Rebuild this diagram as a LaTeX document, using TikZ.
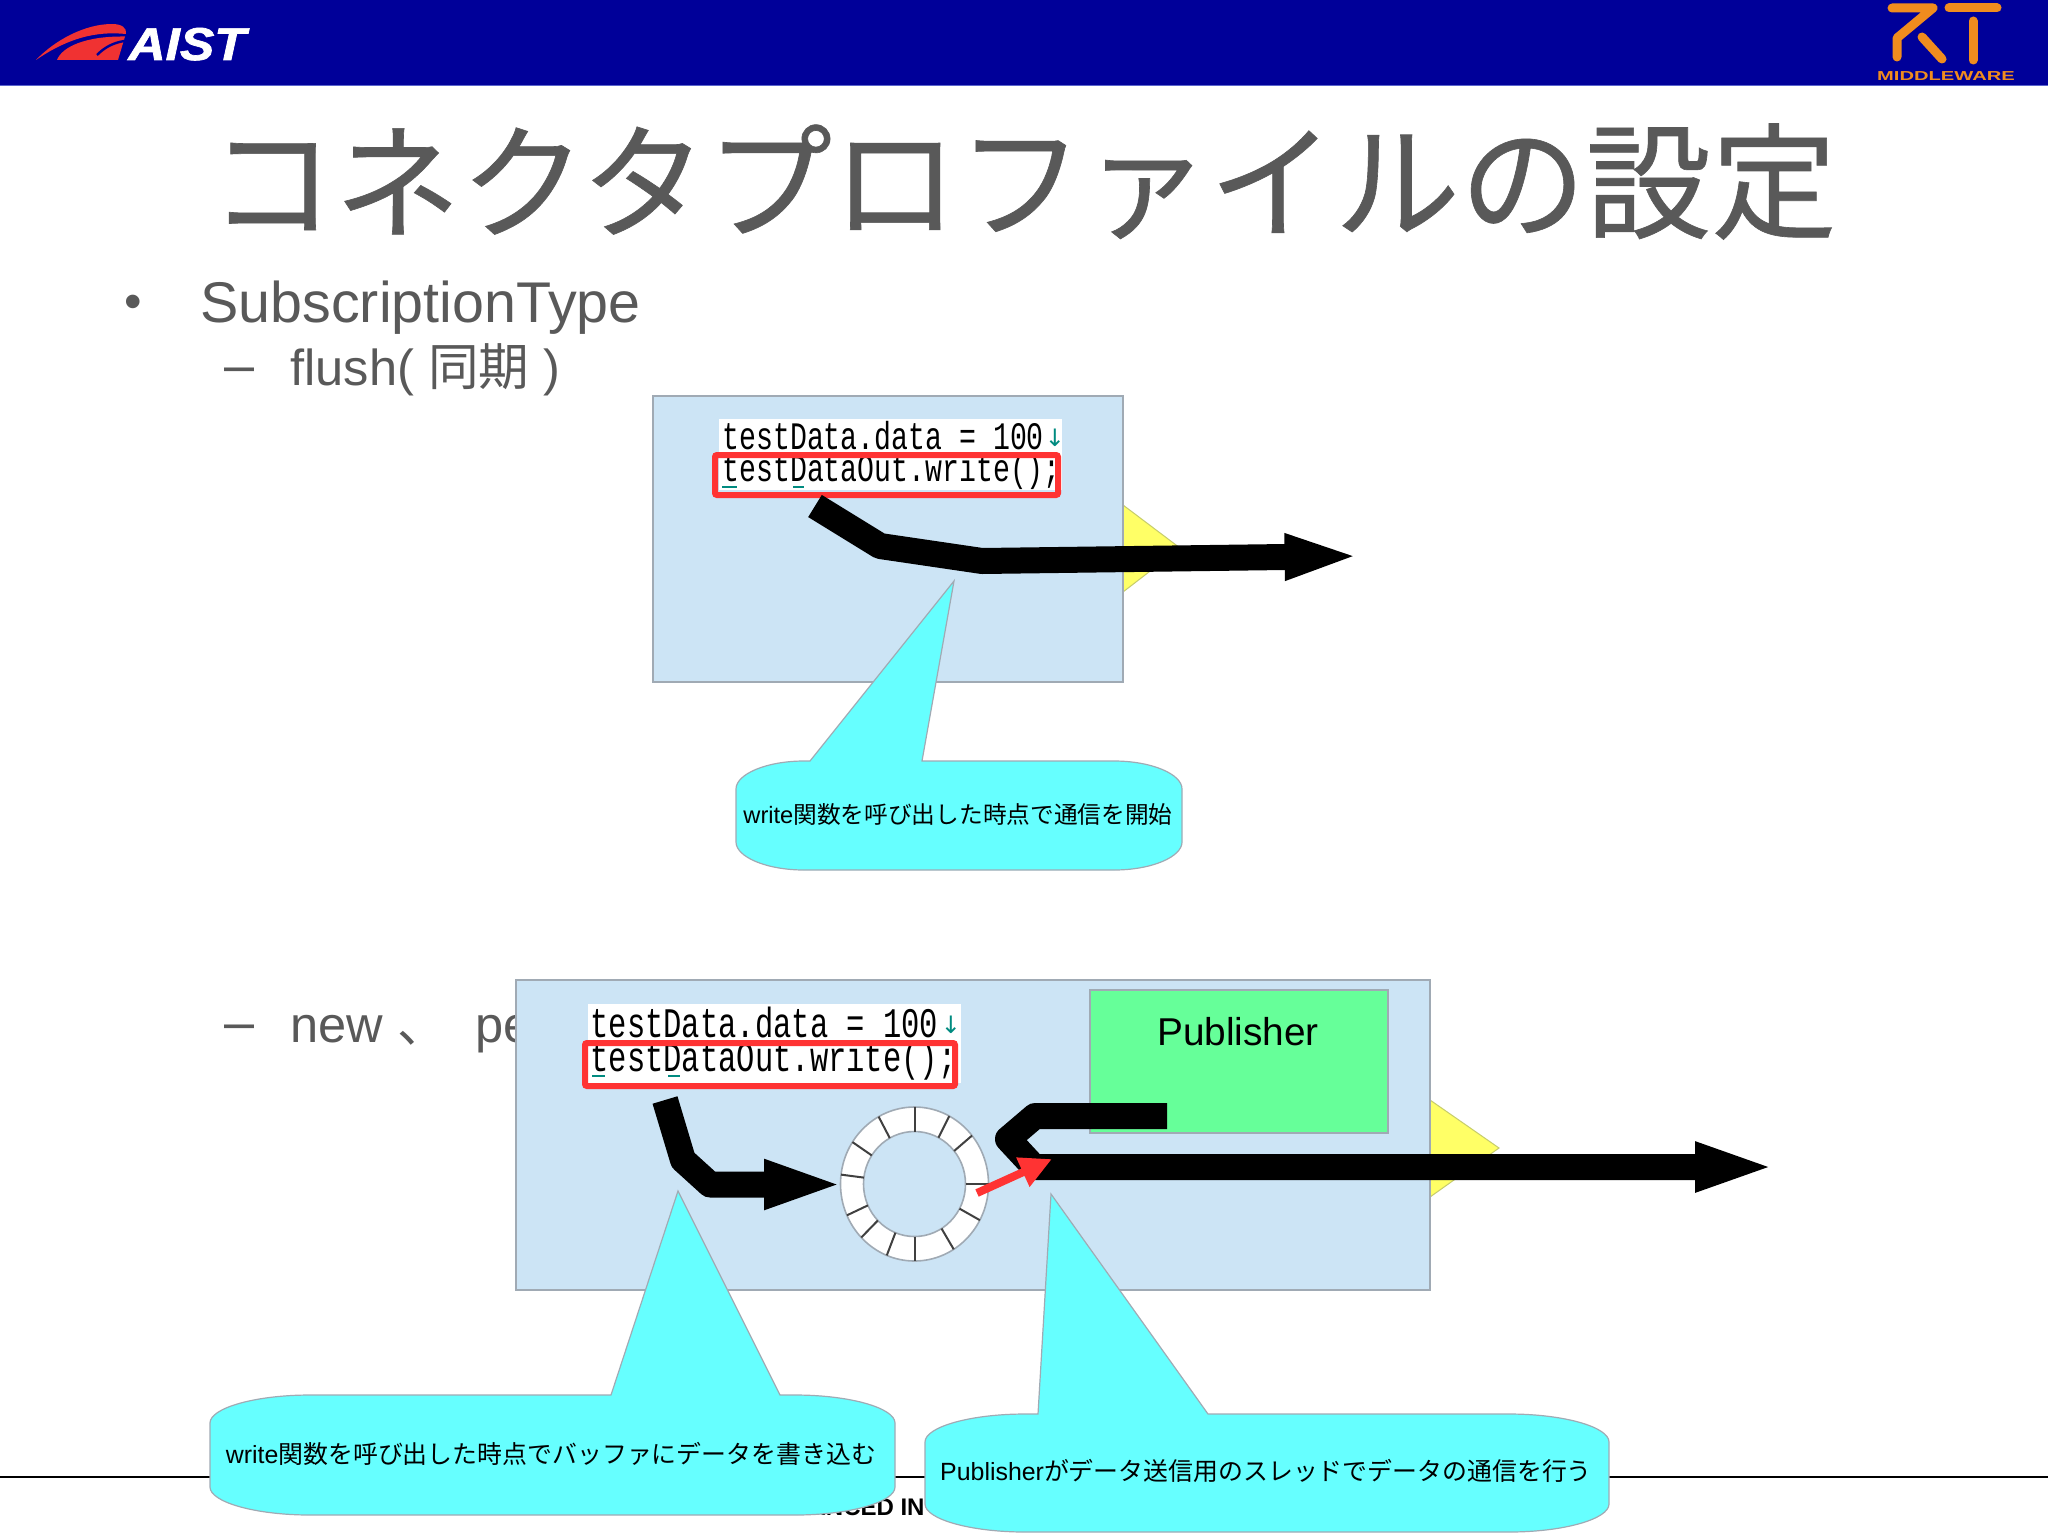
\documentclass[tikz,border=0pt]{standalone}
\usepackage{fontspec}
\usepackage{graphicx}
\usetikzlibrary{arrows.meta}
\setmainfont{Liberation Sans}
\setmonofont{Liberation Mono}
\newfontfamily\jpfont{Noto Sans CJK JP}
\newfontfamily\titlefont[FakeBold=0.5]{Noto Sans CJK JP}
\newfontfamily\symfont{DejaVu Sans}
\newfontfamily\logofont[FakeBold=1.5]{Liberation Sans Bold Italic}

\definecolor{headblue}{RGB}{0,0,153}
\definecolor{headedge}{RGB}{90,100,205}
\definecolor{logored}{RGB}{240,50,50}
\definecolor{logoorange}{RGB}{240,140,30}
\definecolor{slategrey}{RGB}{89,89,89}
\definecolor{boxblue}{RGB}{204,228,245}
\definecolor{boxedge}{RGB}{160,170,180}
\definecolor{pubgreen}{RGB}{102,255,153}
\definecolor{portyellow}{RGB}{255,255,102}
\definecolor{notecyan}{RGB}{102,255,255}
\definecolor{markred}{RGB}{255,51,51}
\definecolor{markteal}{RGB}{0,139,128}

\tikzset{
    blockbox/.style={draw=boxedge, line width=1pt, fill=boxblue},
    portshape/.style={draw=boxedge!60!yellow, line width=0.5pt, fill=portyellow},
    noteshape/.style={draw=boxedge, line width=0.6pt, fill=notecyan},
    notetext/.style={inner sep=0pt, font=\fontsize{12.45}{14}\selectfont},
    slidetext/.style={anchor=base west, inner sep=0pt, text=slategrey},
    flow/.style={line width=13pt, line join=round, -{Triangle[length=38.2pt, width=20.5pt]}},
    markbox/.style={draw=markred, line width=3pt, rounded corners=1pt},
    codeone/.style={anchor=base west, inner sep=0pt, font=\ttfamily\fontsize{14.1}{14}\selectfont},
    codetwo/.style={anchor=base west, inner sep=0pt, font=\ttfamily\fontsize{15.25}{15}\selectfont},
    spellmark/.style={draw=markteal, line width=1pt},
    logostroke/.style={logoorange, line width=4.5pt, line cap=round, line join=round},
}

\newcommand{\tallcode}[1]{\scalebox{1}[1.38]{#1}}

\newcommand{\noteballoon}[9]{
    \draw[noteshape] ({#1+#5},#2) -- (#6,#2) -- (#8,#9) -- (#7,#2) -- ({#3-#5},#2)
        .. controls ({#3-0.45*#5},#2) and (#3,{#2+13}) .. (#3,{#2+28})
        -- (#3,{#4-28})
        .. controls (#3,{#4-13}) and ({#3-0.45*#5},#4) .. ({#3-#5},#4)
        -- ({#1+#5},#4)
        .. controls ({#1+0.45*#5},#4) and (#1,{#4-13}) .. (#1,{#4-28})
        -- (#1,{#2+28})
        .. controls (#1,{#2+13}) and ({#1+0.45*#5},#2) .. ({#1+#5},#2) -- cycle;
}

\begin{document}
\begin{tikzpicture}[x=0.5pt, y=-0.5pt]
            \useasboundingbox (0,0) rectangle (2048,1536);
            \fill[white] (0,0) rectangle (2048,1536);

            \fill[headblue] (0,0) rectangle (2048,85);
            \draw[headedge, line width=0.6pt] (0,85.5) -- (2048,85.5);

            \fill[logored] (36,60) .. controls (55,40) and (85,24) .. (112,24) .. controls (122,24) and (127,28) .. (126,34) .. controls (105,32) and (75,33) .. (36,60) -- cycle;
            \fill[logored] (57,60) .. controls (62,47) and (85,36) .. (125,36.5) -- (118,60) -- cycle;
            \draw[headblue, line width=1.2pt] (97,55) .. controls (105,47) and (113,43) .. (124,41);
            \node[anchor=base west, inner sep=0pt, text=white, font=\logofont\fontsize{23}{23}\selectfont] (aistlogo) at (128,60) {\scalebox{1.12}[1]{AIST}};

            \draw[logostroke] (1892,8) -- (1933,8) -- (1897,38) -- (1897,57);
            \draw[logostroke] (1922,37) -- (1942,59);
            \draw[logostroke] (1949,8) -- (1997,8);
            \draw[logostroke] (1973,21) -- (1973,60);
            \node[anchor=base, inner sep=0pt, text=logoorange, font=\bfseries\fontsize{6.5}{7}\selectfont] (rtlabel) at (1946,81) {\scalebox{1.55}[1]{MIDDLEWARE}};

            \node[anchor=base, inner sep=0pt, text=slategrey, font=\titlefont\fontsize{62.8}{70}\selectfont] (slidetitle) at (1023,229) {コネクタプロファイルの設定};

            \node[slidetext, anchor=base, font=\fontsize{25}{30}\selectfont] (bulletmark) at (133,318) {•};
            \node[slidetext, font=\fontsize{28.7}{30}\selectfont] (subtype) at (200,322) {SubscriptionType};
            \node[slidetext, font=\fontsize{27}{28}\selectfont] (flushdash) at (224,383) {–};
            \node[slidetext, font=\fontsize{25.3}{28}\selectfont] (flushitem) at (290,385) {flush( {\jpfont 同期} )};
            \node[slidetext, font=\fontsize{27}{28}\selectfont] (newdash) at (224,1040) {–};
            \node[slidetext, font=\fontsize{25.3}{28}\selectfont] (newitem) at (290,1042) {new};
            \node[slidetext, font=\jpfont\fontsize{25}{28}\selectfont] (newcomma) at (397,1042) {、};
            \node[slidetext, font=\fontsize{25.3}{28}\selectfont] (peritem) at (475,1042) {pe};

            \draw[black, line width=1pt] (0,1477) -- (2048,1477);
            \node[anchor=base east, inner sep=0pt, font=\bfseries\fontsize{12}{14}\selectfont] (footerword) at (925,1515) {ADVANCED IN};

            \draw[portshape] (1123,505) -- (1180,548) -- (1123,592) -- cycle;
            \draw[blockbox] (653,396) rectangle (1123,682);
            \fill[white] (719,419) rectangle (1062,490);
            \node[codeone] (flushdata) at (722,449.5) {\tallcode{testData.data = 100}};
            \node[inner sep=0pt, text=markteal, font=\symfont\fontsize{12}{14}\selectfont] (flusharrow) at (1055,438) {↓};
            \node[codeone] (flushwrite) at (722,481.5) {\tallcode{testDataOut.write();}};
            \draw[spellmark] (722,487) -- (737,487);
            \draw[spellmark] (793,487) -- (804,487);
            \draw[markbox] (715,455) rectangle (1058,495);

            \coordinate (flushstart) at (815,506);
            \coordinate (flushbendA) at (880,546);
            \coordinate (flushbendB) at (982,561);
            \coordinate (flushend) at (1361,556);
            \draw[flow] (flushstart) -- (flushbendA) -- (flushbendB) -- (flushend);

            \draw[portshape] (1430,1100) -- (1499,1148) -- (1430,1197) -- cycle;
            \draw[blockbox] (516,980) rectangle (1430,1290);
            \node[draw=boxedge, line width=0.8pt, fill=pubgreen, minimum width=149pt, minimum height=71.5pt, inner sep=0pt, anchor=north west] (pubblock) at (1089,989) {};
            \node[inner sep=0pt, anchor=base, font=\fontsize{19.4}{20}\selectfont] (publabel) at (1238,1045) {Publisher};

            \fill[white] (588,1004) rectangle (961,1083);
            \node[codetwo] (newdata) at (590,1037) {\tallcode{testData.data = 100}};
            \node[inner sep=0pt, text=markteal, font=\symfont\fontsize{12}{14}\selectfont] (newarrow) at (951,1025) {↓};
            \node[codetwo] (newwrite) at (590,1071) {\tallcode{testDataOut.write();}};
            \draw[spellmark] (592,1076) -- (605,1076);
            \draw[spellmark] (668,1076) -- (680,1076);
            \draw[markbox] (585,1043) rectangle (955,1086);

            \filldraw[draw=boxedge, line width=0.8pt, fill=white] (914.5,1184) ellipse [x radius=74, y radius=77];
            \filldraw[draw=boxedge, line width=0.8pt, fill=boxblue] (914.5,1184) ellipse [x radius=51, y radius=52.5];
            \foreach \a in {0,28,51,90,118,148,180,202,226,246,277,303,331}
                \draw[black!75, line width=1pt] ({914.5+51*sin(\a)},{1184-52.5*cos(\a)}) -- ({914.5+74*sin(\a)},{1184-77*cos(\a)});

            \coordinate (bufferstart) at (665,1100);
            \coordinate (bufferbendA) at (683,1160);
            \coordinate (bufferbendB) at (710,1184.5);
            \coordinate (bufferend) at (845,1184.5);
            \draw[flow, -{Triangle[length=40.5pt, width=22pt]}] (bufferstart) -- (bufferbendA) -- (bufferbendB) -- (bufferend);

            \coordinate (sendstart) at (1167,1116);
            \coordinate (sendbendA) at (1035,1116);
            \coordinate (sendbendB) at (1008,1139);
            \coordinate (sendbendC) at (1034,1167);
            \coordinate (sendend) at (1777,1167);
            \draw[flow, -{Triangle[length=41pt, width=22pt]}] (sendstart) -- (sendbendA) -- (sendbendB) -- (sendbendC) -- (sendend);

            \coordinate (threadstart) at (977,1193);
            \coordinate (threadend) at (1052,1159);
            \draw[markred, line width=4pt, -{Triangle[length=16pt, width=15pt]}] (threadstart) -- (threadend);

            \noteballoon{736}{761}{1182}{870}{68}{810}{922}{954}{581}
            \node[notetext, font=\fontsize{11.85}{14}\selectfont] (flushnote) at (958,815) {write{\jpfont 関数を呼び出した時点で通信を開始}};

            \noteballoon{210}{1395}{895}{1515}{100}{611}{780}{678}{1191}
            \node[notetext] (writenote) at (551,1454) {write{\jpfont 関数を呼び出した時点でバッファにデータを書き込む}};

            \noteballoon{925}{1414}{1609}{1532}{100}{1038}{1208}{1051}{1194}
            \node[notetext] (publishnote) at (1266,1471) {Publisher{\jpfont がデータ送信用のスレッドでデータの通信を行う}};
\end{tikzpicture}
\end{document}
